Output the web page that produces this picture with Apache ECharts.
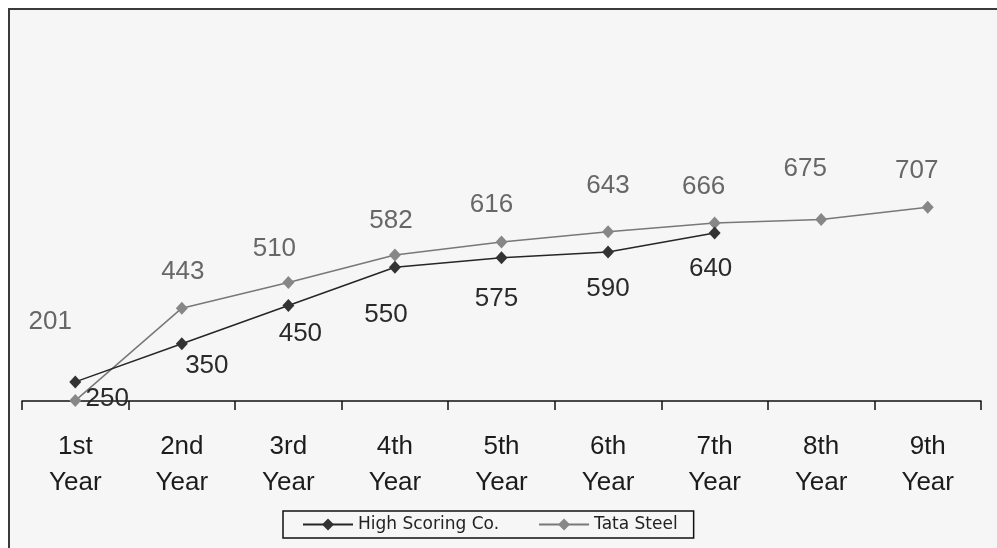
<!DOCTYPE html>
<html>
<head>
<meta charset="utf-8">
<title>High Scoring Co. vs Tata Steel</title>
<script src="https://cdn.jsdelivr.net/npm/echarts@6/dist/echarts.min.js"></script>
<style>
  html, body { margin: 0; padding: 0; background: #ffffff; }
  #chart { width: 997px; height: 548px; }
</style>
</head>
<body>
<div id="chart"></div>
<script>
// Year categories and values for both companies
const years = ['1st\nYear', '2nd\nYear', '3rd\nYear', '4th\nYear', '5th\nYear', '6th\nYear', '7th\nYear', '8th\nYear', '9th\nYear'];
const highScoring = [250, 350, 450, 550, 575, 590, 640];
const tataSteel = [201, 443, 510, 582, 616, 643, 666, 675, 707];

// Hand-placed value label nudges (pixels from each marker)
const highLabelShift = [[32, 17], [25, 22], [12, 28], [-9, 48], [-5, 41], [0, 37], [-4, 36]];
const tataLabelShift = [[-25, -79], [1, -36], [-14, -34], [-4, -34], [-10, -37], [0, -46], [-11, -36], [-16, -51], [-11, -36]];

function withLabels(values, shifts) {
  return values.map((v, i) => ({
    value: v,
    label: { offset: shifts[i] }
  }));
}

const chart = echarts.init(document.getElementById('chart'), null, { renderer: 'canvas' });

const labelBase = {
  show: true,
  position: 'inside',
  align: 'center',
  verticalAlign: 'middle',
  fontFamily: 'Liberation Sans, Arial, sans-serif',
  fontSize: 26
};

chart.setOption({
  backgroundColor: '#ffffff',
  animation: false,
  graphic: [{
    type: 'rect',
    z: -10,
    silent: true,
    shape: { x: 9, y: 9, width: 1000, height: 600 },
    style: { fill: '#f6f6f6', stroke: '#3a3a3a', lineWidth: 2 }
  }],
  grid: { left: 22, top: 19, width: 959, height: 382 },
  xAxis: {
    type: 'category',
    data: years,
    boundaryGap: true,
    axisLine: { lineStyle: { color: '#111', width: 1.5 } },
    axisTick: { show: true, length: 9, lineStyle: { color: '#111', width: 1.5 } },
    axisLabel: {
      color: '#1c1c1c',
      fontFamily: 'Liberation Sans, Arial, sans-serif',
      fontSize: 26,
      lineHeight: 36,
      margin: 28,
      interval: 0
    },
    splitLine: { show: false }
  },
  yAxis: {
    type: 'value',
    min: 200,
    max: 1200,
    show: false,
    splitLine: { show: false }
  },
  legend: {
    left: 283,
    top: 511,
    orient: 'horizontal',
    padding: [5, 16, 5, 19],
    itemGap: 39,
    itemWidth: 50,
    itemHeight: 15,
    borderColor: '#111',
    borderWidth: 1.5,
    borderRadius: 0,
    textStyle: {
      color: '#222',
      fontFamily: 'DejaVu Sans, sans-serif',
      fontSize: 17
    },
    data: ['High Scoring Co.', 'Tata Steel']
  },
  series: [
    {
      name: 'High Scoring Co.',
      type: 'line',
      data: withLabels(highScoring, highLabelShift),
      symbol: 'diamond',
      symbolSize: [12, 13],
      z: 3,
      lineStyle: { color: '#262626', width: 1.5 },
      itemStyle: { color: '#333333' },
      label: Object.assign({}, labelBase, { color: '#2a2a2a' })
    },
    {
      name: 'Tata Steel',
      type: 'line',
      data: withLabels(tataSteel, tataLabelShift),
      symbol: 'diamond',
      symbolSize: [12, 13],
      z: 2,
      lineStyle: { color: '#787878', width: 1.5 },
      itemStyle: { color: '#878787' },
      label: Object.assign({}, labelBase, { color: '#676767' })
    }
  ]
});
</script>
</body>
</html>
